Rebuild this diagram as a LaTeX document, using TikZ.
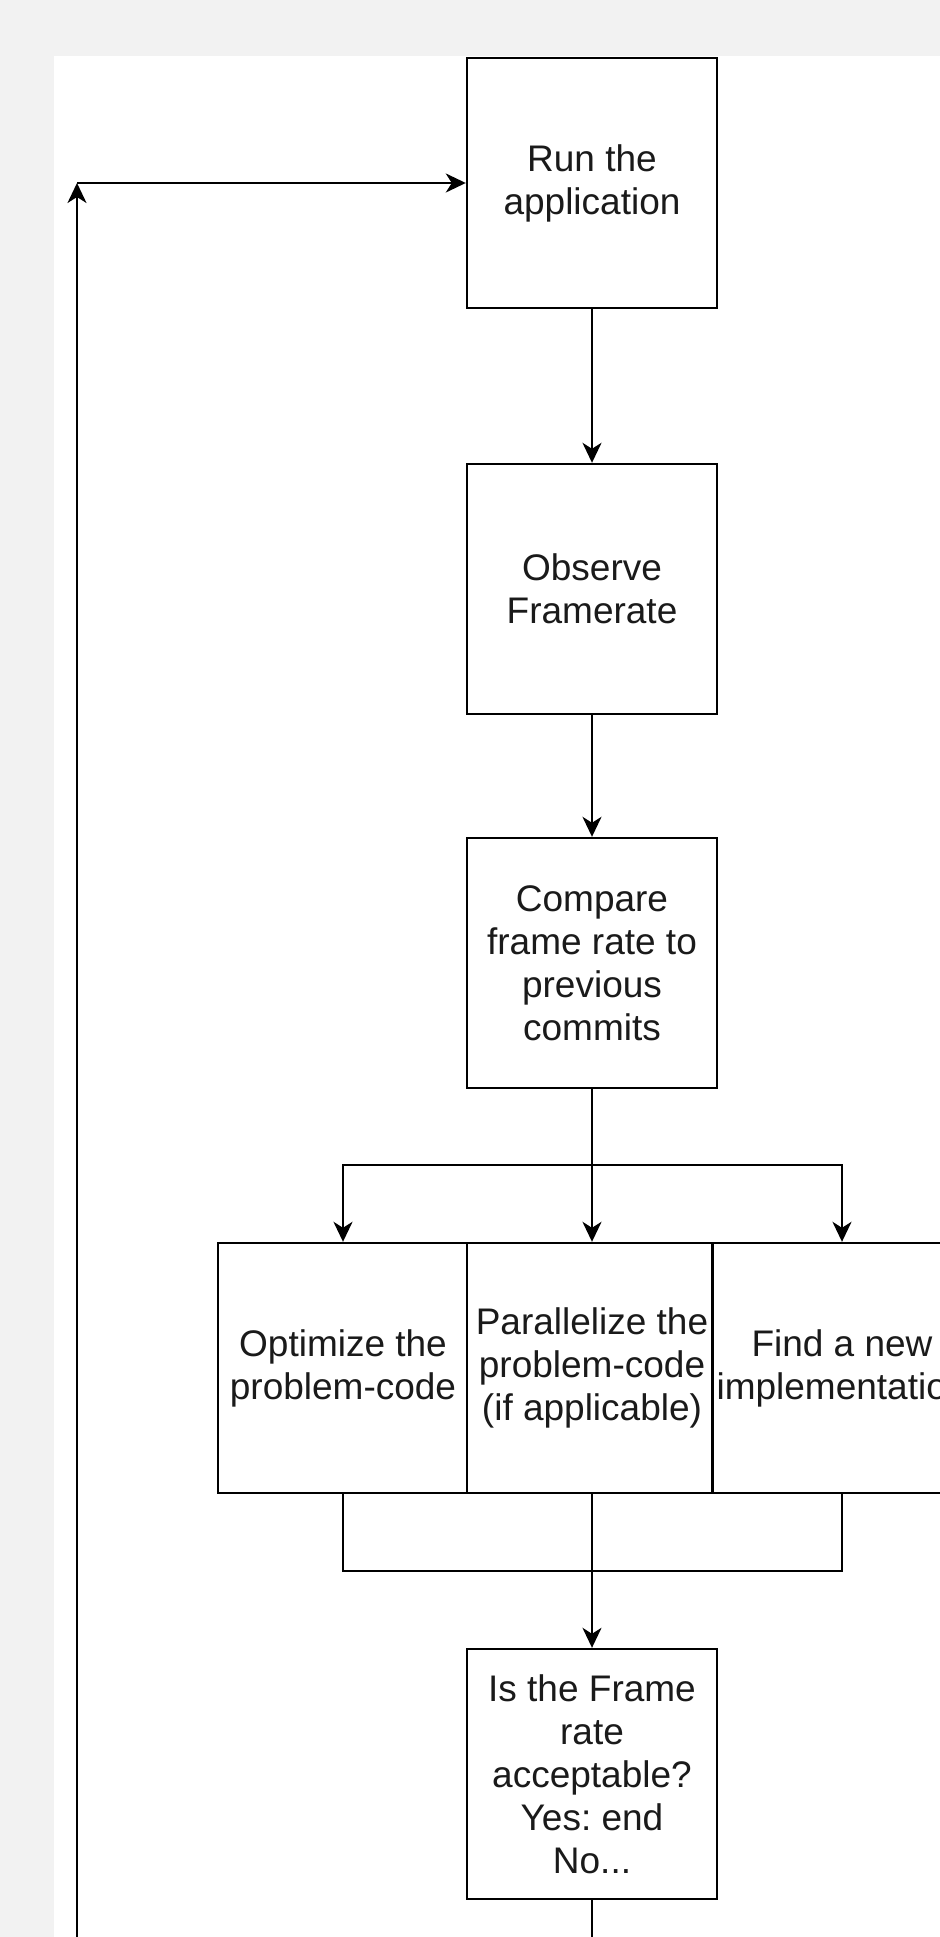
\documentclass[tikz,border=0pt]{standalone}
\usepackage{fontspec}
\setmainfont{Liberation Sans}
\frenchspacing
\usetikzlibrary{arrows.meta}

\definecolor{pagegray}{HTML}{F2F2F2}
\definecolor{inkgray}{HTML}{1A1A1A}

\tikzset{
  stepbox/.style={draw, line width=1.2pt, fill=white, minimum width=125pt,
    minimum height=125pt, inner sep=2pt, align=center, text=inkgray,
    font=\fontsize{18.5pt}{21.5pt}\selectfont},
  wire/.style={line width=1.1pt},
  arr/.style={wire, -{Stealth[length=10pt,width=9.5pt,inset=3pt]}}
}

\begin{document}
\begin{tikzpicture}[x=0.5pt,y=-0.5pt]

\newcommand\CX{592}
\newcommand\LX{343}
\newcommand\RX{842}
\newcommand\BACKX{77}

\useasboundingbox (0,0) rectangle (940,1937);
\clip (0,0) rectangle (940,1937);
\fill[pagegray] (0,0) rectangle (940,1937);
\fill[white] (54,56) rectangle (940,1937);

%% main column
\node[stepbox] (run) at (\CX,183) {Run the\\application};
\node[stepbox] (observe) at (\CX,589) {Observe\\Framerate};
\node[stepbox] (compare) at (\CX,963) {Compare\\frame rate to\\previous\\commits};

%% three options
\node[stepbox] (optimize) at (\LX,1368) {Optimize the\\problem-code};
\node[stepbox] (parallel) at (\CX,1368) {Parallelize the\\problem-code\\(if applicable)};
\node[stepbox] (findnew) at (\RX,1368) {Find a new\\implementation};

\node[stepbox] (accept) at (\CX,1774) {Is the Frame\\rate\\acceptable?\\Yes: end\\No...};

\coordinate (split) at (\CX,1165);
\coordinate (join) at (\CX,1571);
\coordinate (back) at (\BACKX,2000);
\coordinate (turn) at (\BACKX,183);

%%
\draw[arr] (run) -- (observe);
\draw[arr] (observe) -- (compare);

\draw[wire] (compare) -- (split);
\draw[arr] (split) -| (optimize);
\draw[arr] (split) -- (parallel);
\draw[arr] (split) -| (findnew);

\draw[wire] (optimize) |- (join);
\draw[wire] (findnew) |- (join);
\draw[arr] (parallel) -- (accept);

%% loop back
\draw[arr] (accept) |- (back) -- (turn);
\draw[arr] (turn) -- (run);

\end{tikzpicture}
\end{document}
